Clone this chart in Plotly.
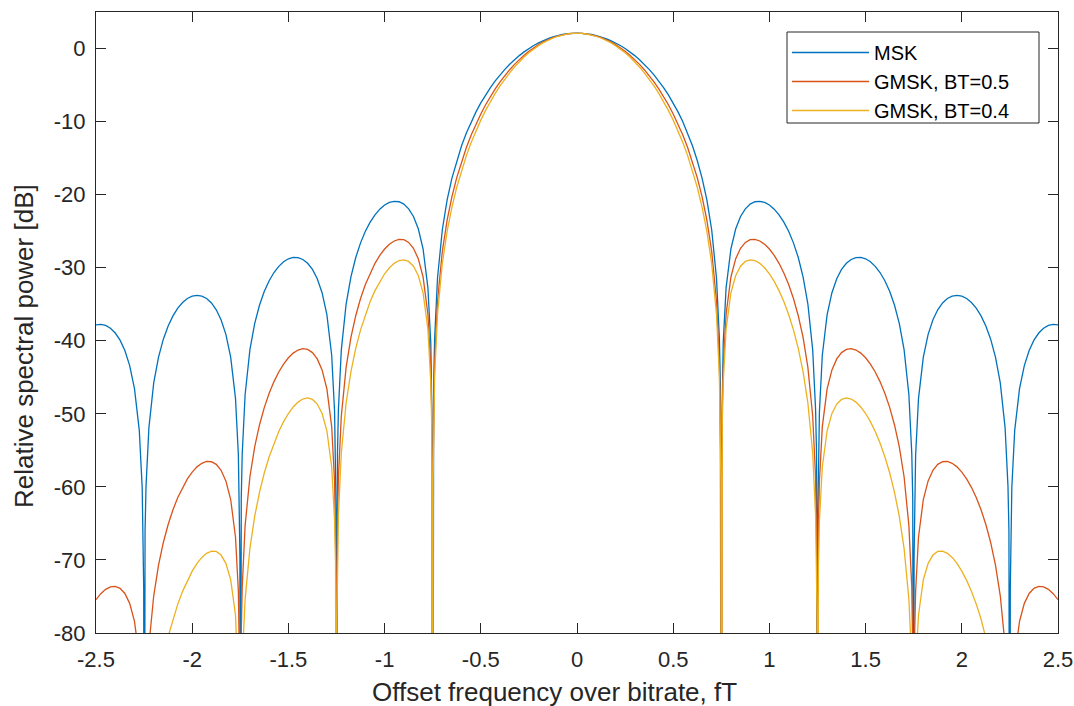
import plotly.graph_objects as go

# Offset frequency fT (denser near the nulls)
freq = [
    -2.5, -2.475, -2.45, -2.425, -2.4, -2.375, -2.35, -2.325, -2.3, -2.275,
    -2.26, -2.255, -2.252, -2.25, -2.248, -2.245, -2.24,
    -2.225, -2.2, -2.175, -2.15, -2.125, -2.1, -2.075, -2.05, -2.025, -2.0,
    -1.975, -1.95, -1.925, -1.9, -1.875, -1.85, -1.825, -1.8, -1.775,
    -1.76, -1.755, -1.752, -1.75, -1.748, -1.745, -1.74,
    -1.725, -1.7, -1.675, -1.65, -1.625, -1.6, -1.575, -1.55, -1.525, -1.5,
    -1.475, -1.45, -1.425, -1.4, -1.375, -1.35, -1.325, -1.3, -1.275,
    -1.26, -1.255, -1.252, -1.25, -1.248, -1.245, -1.24,
    -1.225, -1.2, -1.175, -1.15, -1.125, -1.1, -1.075, -1.05, -1.025, -1.0,
    -0.975, -0.95, -0.925, -0.9, -0.875, -0.85, -0.825, -0.8, -0.775,
    -0.76, -0.755, -0.752, -0.75, -0.748, -0.745, -0.74,
    -0.725, -0.7, -0.675, -0.65, -0.625, -0.6, -0.575, -0.55, -0.525, -0.5,
    -0.475, -0.45, -0.425, -0.4, -0.375, -0.35, -0.325, -0.3, -0.275, -0.25,
    -0.225, -0.2, -0.175, -0.15, -0.125, -0.1, -0.075, -0.05, -0.025,
    0.0,
    0.025, 0.05, 0.075, 0.1, 0.125, 0.15, 0.175, 0.2, 0.225, 0.25,
    0.275, 0.3, 0.325, 0.35, 0.375, 0.4, 0.425, 0.45, 0.475, 0.5,
    0.525, 0.55, 0.575, 0.6, 0.625, 0.65, 0.675, 0.7, 0.725,
    0.74, 0.745, 0.748, 0.75, 0.752, 0.755, 0.76,
    0.775, 0.8, 0.825, 0.85, 0.875, 0.9, 0.925, 0.95, 0.975, 1.0,
    1.025, 1.05, 1.075, 1.1, 1.125, 1.15, 1.175, 1.2, 1.225,
    1.24, 1.245, 1.248, 1.25, 1.252, 1.255, 1.26,
    1.275, 1.3, 1.325, 1.35, 1.375, 1.4, 1.425, 1.45, 1.475, 1.5,
    1.525, 1.55, 1.575, 1.6, 1.625, 1.65, 1.675, 1.7, 1.725,
    1.74, 1.745, 1.748, 1.75, 1.752, 1.755, 1.76,
    1.775, 1.8, 1.825, 1.85, 1.875, 1.9, 1.925, 1.95, 1.975, 2.0,
    2.025, 2.05, 2.075, 2.1, 2.125, 2.15, 2.175, 2.2, 2.225,
    2.24, 2.245, 2.248, 2.25, 2.252, 2.255, 2.26,
    2.275, 2.3, 2.325, 2.35, 2.375, 2.4, 2.425, 2.45, 2.475, 2.5,
]

msk_db = [
    -37.82, -37.75, -37.90, -38.28, -38.94, -39.92, -41.34, -43.40, -46.55, -52.27,
    -60.08, -66.06, -74.00, -140, -73.97, -65.99, -59.93,
    -51.88, -45.77, -42.23, -39.78, -37.97, -36.59, -35.54, -34.76, -34.22, -33.89,
    -33.78, -33.88, -34.22, -34.82, -35.76, -37.13, -39.13, -42.23, -47.89,
    -55.67, -61.64, -69.57, -140, -69.53, -61.54, -55.47,
    -47.39, -41.21, -37.61, -35.10, -33.22, -31.78, -30.66, -29.81, -29.19, -28.78,
    -28.59, -28.61, -28.87, -29.39, -30.24, -31.51, -33.42, -36.42, -41.98,
    -49.69, -55.64, -63.56, -140, -63.50, -55.49, -49.40,
    -41.25, -34.97, -31.24, -28.61, -26.60, -25.02, -23.76, -22.76, -21.99, -21.42,
    -21.06, -20.91, -20.97, -21.30, -21.94, -22.99, -24.67, -27.42, -32.72,
    -40.26, -46.15, -54.04, -140, -53.93, -45.89, -39.74,
    -31.41, -24.80, -20.73, -17.73, -15.32, -13.30, -11.55, -10.03, -8.67, -7.44,
    -6.34, -5.34, -4.43, -3.61, -2.85, -2.16, -1.54, -0.97, -0.46, 0.00,
    0.41, 0.77, 1.09, 1.36, 1.59, 1.77, 1.92, 2.02, 2.08,
    2.10,
    2.08, 2.02, 1.92, 1.77, 1.59, 1.36, 1.09, 0.77, 0.41, 0.00,
    -0.46, -0.97, -1.54, -2.16, -2.85, -3.61, -4.43, -5.34, -6.34, -7.44,
    -8.67, -10.03, -11.55, -13.30, -15.32, -17.73, -20.73, -24.80, -31.41,
    -39.74, -45.89, -53.93, -140, -54.04, -46.15, -40.26,
    -32.72, -27.42, -24.67, -22.99, -21.94, -21.30, -20.97, -20.91, -21.06, -21.42,
    -21.99, -22.76, -23.76, -25.02, -26.60, -28.61, -31.24, -34.97, -41.25,
    -49.40, -55.49, -63.50, -140, -63.56, -55.64, -49.69,
    -41.98, -36.42, -33.42, -31.51, -30.24, -29.39, -28.87, -28.61, -28.59, -28.78,
    -29.19, -29.81, -30.66, -31.78, -33.22, -35.10, -37.61, -41.21, -47.39,
    -55.47, -61.54, -69.53, -140, -69.57, -61.64, -55.67,
    -47.89, -42.23, -39.13, -37.13, -35.76, -34.82, -34.22, -33.88, -33.78, -33.89,
    -34.22, -34.76, -35.54, -36.59, -37.97, -39.78, -42.23, -45.77, -51.88,
    -59.93, -65.99, -73.97, -140, -74.00, -66.06, -60.08,
    -52.27, -46.55, -43.40, -41.34, -39.92, -38.94, -38.28, -37.90, -37.75, -37.82,
]

gmsk05_db = [
    -75.44, -74.62, -74.03, -73.68, -73.61, -73.88, -74.59, -75.94, -78.40, -83.43,
    -90.83, -96.67, -104.53, -140, -104.39, -96.33, -90.14,
    -81.68, -74.91, -70.70, -67.61, -65.15, -63.14, -61.46, -60.06, -58.90, -57.97,
    -57.26, -56.77, -56.52, -56.56, -56.92, -57.73, -59.18, -61.73, -66.86,
    -74.32, -80.18, -88.05, -140, -87.92, -79.87, -73.70,
    -65.30, -58.61, -54.50, -51.49, -49.12, -47.19, -45.59, -44.27, -43.19, -42.33,
    -41.69, -41.27, -41.09, -41.19, -41.62, -42.48, -43.99, -46.59, -51.76,
    -59.25, -65.12, -73.00, -140, -72.88, -64.82, -58.66,
    -50.29, -43.64, -39.55, -36.57, -34.22, -32.30, -30.72, -29.40, -28.31, -27.44,
    -26.79, -26.34, -26.12, -26.17, -26.54, -27.34, -28.76, -31.27, -36.33,
    -43.74, -49.58, -57.44, -140, -57.30, -49.23, -43.04,
    -34.58, -27.75, -23.48, -20.27, -17.67, -15.46, -13.54, -11.85, -10.32, -8.95,
    -7.70, -6.56, -5.52, -4.57, -3.70, -2.90, -2.17, -1.51, -0.92, -0.38,
    0.10, 0.53, 0.90, 1.22, 1.49, 1.71, 1.88, 2.00, 2.07,
    2.10,
    2.07, 2.00, 1.88, 1.71, 1.49, 1.22, 0.90, 0.53, 0.10, -0.38,
    -0.92, -1.51, -2.17, -2.90, -3.70, -4.57, -5.52, -6.56, -7.70, -8.95,
    -10.32, -11.85, -13.54, -15.46, -17.67, -20.27, -23.48, -27.75, -34.58,
    -43.04, -49.23, -57.30, -140, -57.44, -49.58, -43.74,
    -36.33, -31.27, -28.76, -27.34, -26.54, -26.17, -26.12, -26.34, -26.79, -27.44,
    -28.31, -29.40, -30.72, -32.30, -34.22, -36.57, -39.55, -43.64, -50.29,
    -58.66, -64.82, -72.88, -140, -73.00, -65.12, -59.25,
    -51.76, -46.59, -43.99, -42.48, -41.62, -41.19, -41.09, -41.27, -41.69, -42.33,
    -43.19, -44.27, -45.59, -47.19, -49.12, -51.49, -54.50, -58.61, -65.30,
    -73.70, -79.87, -87.92, -140, -88.05, -80.18, -74.32,
    -66.86, -61.73, -59.18, -57.73, -56.92, -56.56, -56.52, -56.77, -57.26, -57.97,
    -58.90, -60.06, -61.46, -63.14, -65.15, -67.61, -70.70, -74.91, -81.68,
    -90.14, -96.33, -104.39, -140, -104.53, -96.67, -90.83,
    -83.43, -78.40, -75.94, -74.59, -73.88, -73.61, -73.68, -74.03, -74.62, -75.44,
]

gmsk04_db = [
    -96.63, -95.39, -94.38, -93.62, -93.14, -93.00, -93.31, -94.26, -96.33, -100.97,
    -108.14, -113.91, -121.72, -140, -121.52, -113.42, -107.15,
    -98.46, -91.31, -86.74, -83.28, -80.46, -78.09, -76.05, -74.30, -72.80, -71.53,
    -70.48, -69.66, -69.09, -68.79, -68.84, -69.33, -70.47, -72.71, -77.54,
    -84.82, -90.62, -98.45, -140, -98.28, -90.19, -83.96,
    -75.39, -68.41, -64.01, -60.72, -58.07, -55.87, -54.00, -52.41, -51.07, -49.96,
    -49.06, -48.40, -47.97, -47.83, -48.03, -48.66, -49.94, -52.32, -57.27,
    -64.63, -70.46, -78.31, -140, -78.16, -70.08, -63.87,
    -55.37, -48.52, -44.23, -41.05, -38.51, -36.41, -34.63, -33.14, -31.88, -30.83,
    -30.01, -29.40, -29.02, -28.92, -29.14, -29.79, -31.07, -33.44, -38.37,
    -45.70, -51.51, -59.36, -140, -59.20, -51.11, -44.89,
    -36.36, -29.42, -25.02, -21.70, -18.99, -16.68, -14.66, -12.87, -11.26, -9.80,
    -8.47, -7.25, -6.13, -5.11, -4.17, -3.32, -2.53, -1.82, -1.17, -0.59,
    -0.07, 0.40, 0.80, 1.15, 1.44, 1.68, 1.86, 1.99, 2.07,
    2.10,
    2.07, 1.99, 1.86, 1.68, 1.44, 1.15, 0.80, 0.40, -0.07, -0.59,
    -1.17, -1.82, -2.53, -3.32, -4.17, -5.11, -6.13, -7.25, -8.47, -9.80,
    -11.26, -12.87, -14.66, -16.68, -18.99, -21.70, -25.02, -29.42, -36.36,
    -44.89, -51.11, -59.20, -140, -59.36, -51.51, -45.70,
    -38.37, -33.44, -31.07, -29.79, -29.14, -28.92, -29.02, -29.40, -30.01, -30.83,
    -31.88, -33.14, -34.63, -36.41, -38.51, -41.05, -44.23, -48.52, -55.37,
    -63.87, -70.08, -78.16, -140, -78.31, -70.46, -64.63,
    -57.27, -52.32, -49.94, -48.66, -48.03, -47.83, -47.97, -48.40, -49.06, -49.96,
    -51.07, -52.41, -54.00, -55.87, -58.07, -60.72, -64.01, -68.41, -75.39,
    -83.96, -90.19, -98.28, -140, -98.45, -90.62, -84.82,
    -77.54, -72.71, -70.47, -69.33, -68.84, -68.79, -69.09, -69.66, -70.48, -71.53,
    -72.80, -74.30, -76.05, -78.09, -80.46, -83.28, -86.74, -91.31, -98.46,
    -107.15, -113.42, -121.52, -140, -121.72, -113.91, -108.14,
    -100.97, -96.33, -94.26, -93.31, -93.00, -93.14, -93.62, -94.38, -95.39, -96.63,
]

series_names = ["MSK", "GMSK, BT=0.5", "GMSK, BT=0.4"]
series_colors = ["#0072BD", "#D95319", "#EDB120"]

x_tickvals = [-2.5, -2, -1.5, -1, -0.5, 0, 0.5, 1, 1.5, 2, 2.5]
x_ticktext = ["-2.5", "-2", "-1.5", "-1", "-0.5", "0", "0.5", "1", "1.5", "2", "2.5"]
y_tickvals = [-80, -70, -60, -50, -40, -30, -20, -10, 0]
y_ticktext = ["-80", "-70", "-60", "-50", "-40", "-30", "-20", "-10", "0"]

assert len(freq) == len(msk_db) == len(gmsk05_db) == len(gmsk04_db)

FONT = "Liberation Sans, Arial, Helvetica, sans-serif"
AX = "#262626"

fig = go.Figure()
for name, ys, col in zip(series_names, [msk_db, gmsk05_db, gmsk04_db], series_colors):
    fig.add_trace(go.Scatter(x=freq, y=ys, mode="lines", name=name,
                             line=dict(color=col, width=1.3)))

axis_common = dict(
    showgrid=False, zeroline=False, showline=True, linecolor=AX, linewidth=1,
    mirror="ticks", ticks="inside", ticklen=10, tickwidth=1, tickcolor=AX,
    tickfont=dict(family=FONT, size=22, color=AX), automargin=False,
)

fig.update_xaxes(range=[-2.5, 2.5], tickmode="array", tickvals=x_tickvals,
                 ticktext=x_ticktext, ticklabelstandoff=7, **axis_common)
fig.update_yaxes(range=[-80, 5], tickmode="array", tickvals=y_tickvals,
                 ticktext=y_ticktext, ticklabelstandoff=5, **axis_common)

L, R, T, B = 96, 16, 12, 73
W, H = 1074, 706
pw, ph = W - L - R, H - T - B


def px_x(px):
    return (px - L) / pw


def px_y(py):
    return 1 - (py - T) / ph


# legend frame (pixel box)
LEG_L, LEG_R, LEG_T, LEG_B = 787, 1039, 32, 123

fig.update_layout(
    width=W, height=H,
    margin=dict(l=L, r=R, t=T, b=B, pad=0, autoexpand=False),
    paper_bgcolor="white", plot_bgcolor="white",
    font=dict(family=FONT, color=AX),
    showlegend=True,
    legend=dict(
        x=px_x(LEG_L), y=px_y(LEG_T + 1), xanchor="left", yanchor="top",
        bgcolor="rgba(0,0,0,0)", borderwidth=0,
        font=dict(family=FONT, size=20, color="black"),
        itemwidth=77, tracegroupgap=0,
    ),
    shapes=[dict(type="rect", xref="paper", yref="paper",
                 x0=px_x(LEG_L), x1=px_x(LEG_R), y0=px_y(LEG_B), y1=px_y(LEG_T),
                 line=dict(color=AX, width=1), fillcolor="white", layer="below")],
    annotations=[
        dict(text="Offset frequency over bitrate, fT", xref="paper", yref="paper",
             x=px_x(554), y=px_y(692), xanchor="center", yanchor="middle",
             showarrow=False, font=dict(family=FONT, size=26, color=AX)),
        dict(text="Relative spectral power [dB]", xref="paper", yref="paper",
             x=px_x(24), y=px_y(346), xanchor="center", yanchor="middle",
             textangle=-90, showarrow=False, font=dict(family=FONT, size=26, color=AX)),
    ],
)

fig.write_html("out.html")
